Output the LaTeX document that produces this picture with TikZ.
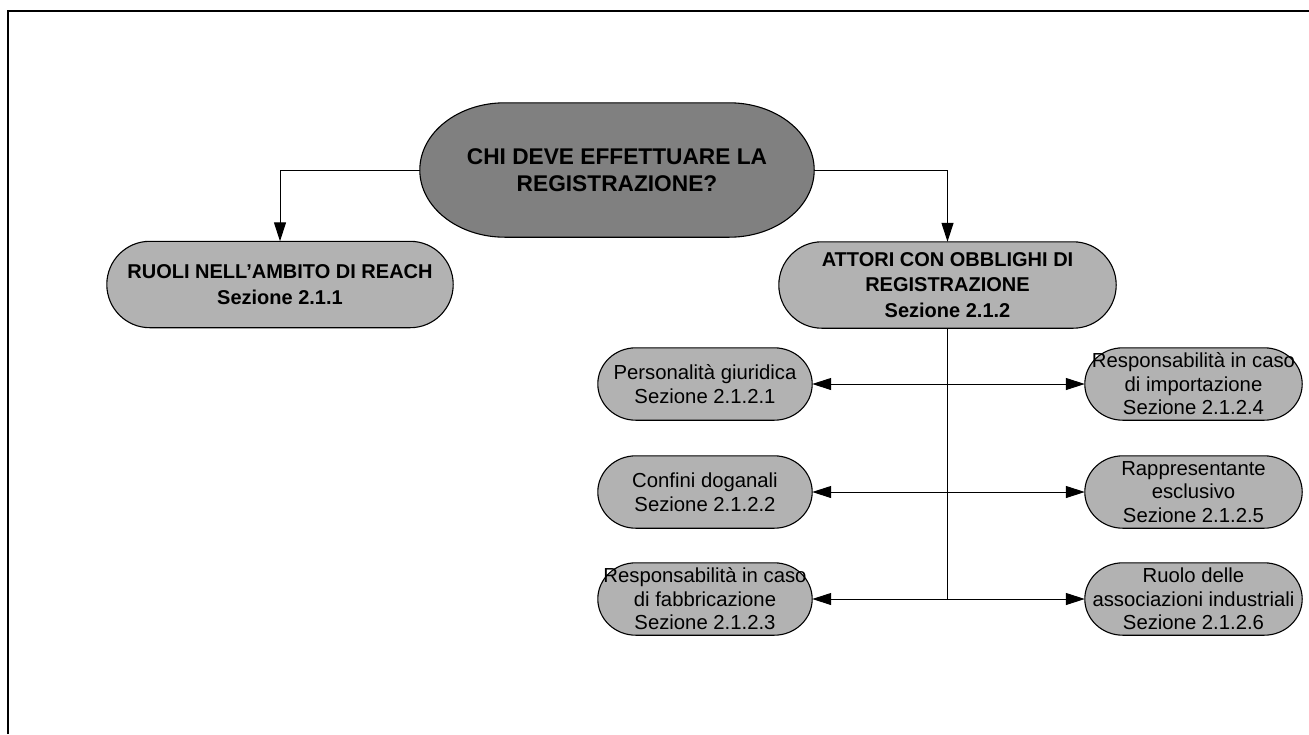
\documentclass[tikz,border=0pt]{standalone}
\usepackage{fontspec}
\setmainfont{Liberation Sans}
\usetikzlibrary{arrows.meta,backgrounds,calc}
\definecolor{topgray}{HTML}{808080}
\definecolor{boxgray}{HTML}{B2B2B2}
\newcommand{\drawcapsule}[3]{%
  \path[draw=black,line width=1.1pt,fill=#3]
    let \p1=(#1.north east), \p2=(#1.south west), \n1={(\y1-\y2)/2} in
    (\x2+#2pt,\y1) -- (\x1-#2pt,\y1)
    arc[start angle=90,end angle=-90,x radius=#2pt,y radius=\n1]
    -- (\x2+#2pt,\y2)
    arc[start angle=270,end angle=90,x radius=#2pt,y radius=\n1] -- cycle;}
\tikzset{
  txt/.style={inner sep=0pt,align=center,text=black},
  topbox/.style={txt,font=\fontsize{22.7}{27}\selectfont\bfseries,minimum width=394pt,minimum height=134pt},
  midbox/.style={txt,font=\fontsize{20}{25.5}\selectfont\bfseries,minimum height=86pt},
  smallbox/.style={txt,font=\fontsize{20.3}{23.5}\selectfont,minimum height=72pt},
  conn/.style={draw=black,line width=1pt},
  tip/.style={-{Triangle[length=19pt,width=12pt]}},
  dtip/.style={{Triangle[length=19pt,width=12pt]}-{Triangle[length=19pt,width=12pt]}}
}
\begin{document}
\begin{tikzpicture}[x=1pt,y=-1pt]
\useasboundingbox (0,0) rectangle (1309,734);
\coordinate (fa) at (8,734);
\coordinate (fb) at (8,11);
\coordinate (fc) at (1309,11);
\draw[line width=2pt] (fa) -- (fb) -- (fc);

\node[topbox] (q) at (617,170) {CHI DEVE EFFETTUARE LA\\REGISTRAZIONE?};
\node[midbox,minimum width=346pt] (ruoli) at (280,284.5) {RUOLI NELL’AMBITO DI REACH\\Sezione 2.1.1};
\node[midbox,minimum width=337pt] (attori) at (947.5,285) {ATTORI CON OBBLIGHI DI\\REGISTRAZIONE\\Sezione 2.1.2};

\node[smallbox,minimum width=214pt] (l1) at (705,384) {Personalità giuridica\\Sezione 2.1.2.1};
\node[smallbox,minimum width=214pt] (l2) at (705,492) {Confini doganali\\Sezione 2.1.2.2};
\node[smallbox,minimum width=214pt] (l3) at (705,599) {Responsabilità in caso\\di fabbricazione\\Sezione 2.1.2.3};
\node[smallbox,minimum width=217pt] (r1) at (1193.5,384) {Responsabilità in caso\\di importazione\\Sezione 2.1.2.4};
\node[smallbox,minimum width=217pt] (r2) at (1193.5,492) {Rappresentante\\esclusivo\\Sezione 2.1.2.5};
\node[smallbox,minimum width=217pt] (r3) at (1193.5,599) {Ruolo delle\\associazioni industriali\\Sezione 2.1.2.6};

\begin{scope}[on background layer]
  \drawcapsule{q}{85}{topgray}
  \drawcapsule{ruoli}{43}{boxgray}
  \drawcapsule{attori}{43}{boxgray}
  \drawcapsule{l1}{38}{boxgray}
  \drawcapsule{l2}{38}{boxgray}
  \drawcapsule{l3}{38}{boxgray}
  \drawcapsule{r1}{38}{boxgray}
  \drawcapsule{r2}{38}{boxgray}
  \drawcapsule{r3}{38}{boxgray}
\end{scope}

\draw[conn,tip] (q.west) -| (ruoli.north);
\draw[conn,tip] (q.east) -| (attori.north);
\coordinate (trunkend) at (attori.south |- l3.east);
\draw[conn] (attori.south) -- (trunkend);
\draw[conn,dtip] (l1.east) -- (r1.west);
\draw[conn,dtip] (l2.east) -- (r2.west);
\draw[conn,dtip] (l3.east) -- (r3.west);
\end{tikzpicture}
\end{document}
